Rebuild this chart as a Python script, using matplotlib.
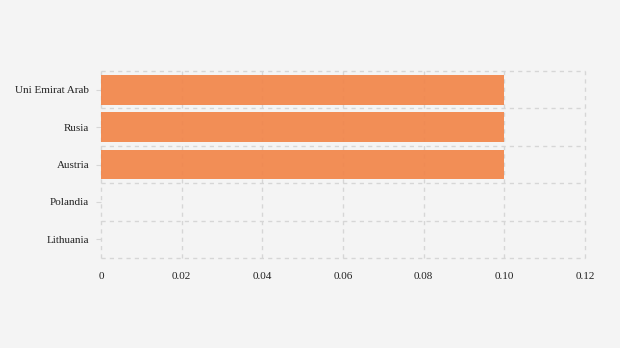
import matplotlib.pyplot as plt
import numpy as np

countries = ["Uni Emirat Arab", "Rusia", "Austria", "Polandia", "Lithuania"]
values = [0.10, 0.10, 0.10, 0.0, 0.0]
xticks = [0, 0.02, 0.04, 0.06, 0.08, 0.10, 0.12]
xtick_labels = ["0", "0.02", "0.04", "0.06", "0.08", "0.10", "0.12"]

plt.rcParams['font.family'] = ['Liberation Serif', 'DejaVu Serif']

fig = plt.figure(figsize=(6.2, 3.48), dpi=100, facecolor="#f4f4f4")
ax = fig.add_axes([101 / 620, 1 - 258 / 348, 484 / 620, 187 / 348])
ax.set_facecolor("#f4f4f4")

y = np.arange(len(countries))
ax.barh(y, values, height=0.8, color="#f28549", alpha=0.92, zorder=2)

ax.set_xlim(0, 0.12)
ax.set_ylim(len(countries) - 0.5, -0.5)
ax.set_xticks(xticks)
ax.set_xticklabels(xtick_labels)
ax.set_yticks(y)
ax.set_yticklabels(countries)
ax.set_yticks(np.arange(len(countries) + 1) - 0.5, minor=True)

for s in ax.spines.values():
    s.set_visible(False)

grid_kw = dict(color="#d6d6d6", linestyle=(0, (3, 3)), linewidth=1)
ax.grid(axis="x", which="major", **grid_kw)
ax.grid(axis="y", which="minor", **grid_kw)
ax.grid(axis="y", which="major", visible=False)
for t in ax.xaxis.get_major_ticks() + ax.yaxis.get_minor_ticks():
    t.gridline.set_clip_on(False)

ax.tick_params(axis="x", length=0, pad=10, labelsize=8, labelcolor="#222222")
ax.tick_params(axis="y", which="major", length=3.6, color="#d6d6d6", pad=5,
               labelsize=8, labelcolor="#222222")
ax.tick_params(axis="y", which="minor", length=0)

fig.savefig("out.png", dpi=100, facecolor=fig.get_facecolor())
